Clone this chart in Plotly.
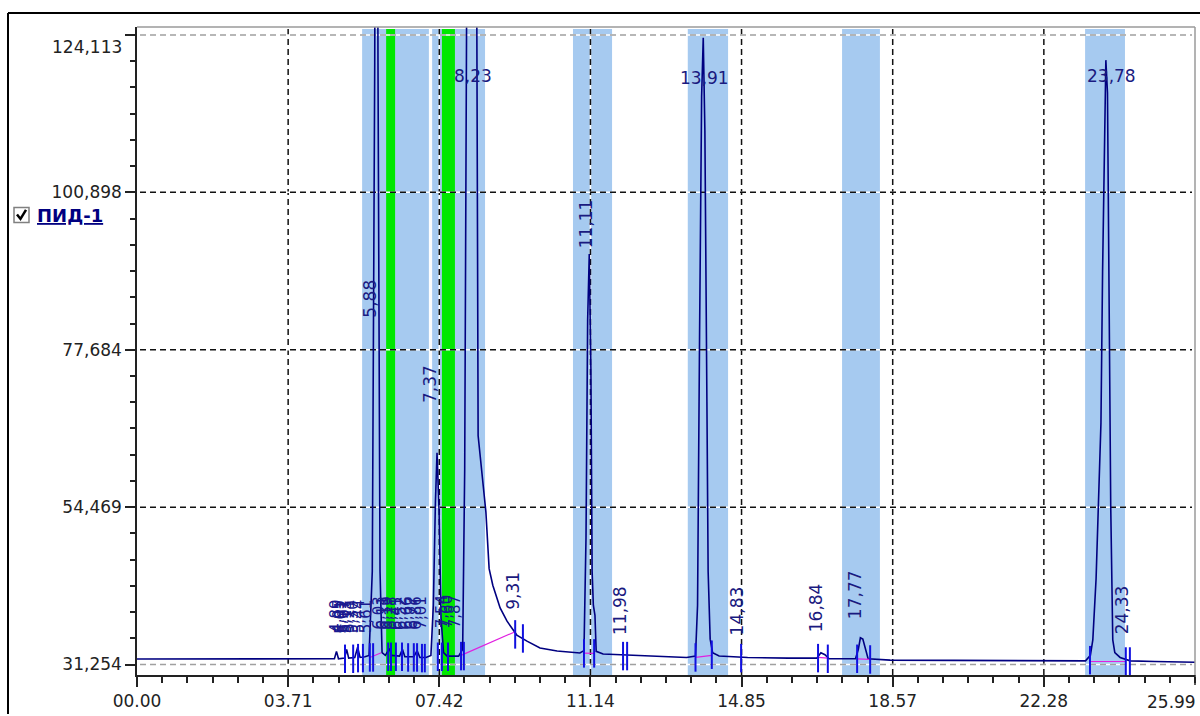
import plotly.graph_objects as go

# ---------------- data ----------------
signal_t = [0.00, 1.50, 3.00, 4.50, 4.85, 4.90, 4.95, 5.10, 5.15, 5.20, 5.35, 5.42, 5.48,
            5.60, 5.70, 5.78, 5.84, 5.88, 5.92, 5.97, 6.02, 6.10, 6.20, 6.26, 6.45, 6.52,
            6.58, 6.80, 6.88, 6.95, 7.10, 7.22, 7.28, 7.33, 7.37, 7.42, 7.47, 7.53, 7.62,
            7.90, 8.00, 8.05, 8.12, 8.23, 8.33, 8.38, 8.50, 8.57, 8.65, 8.74, 8.92, 9.09,
            9.33, 9.58, 9.90, 10.32, 10.88, 10.98, 11.03, 11.07, 11.11, 11.15, 11.18, 11.21,
            11.25, 11.28, 11.45, 12.00, 12.50, 13.00, 13.50, 13.72, 13.77, 13.82, 13.87,
            13.91, 13.95, 14.00, 14.03, 14.08, 14.14, 14.30, 15.00, 16.00, 16.70, 16.80,
            16.90, 17.00, 17.65, 17.72, 17.77, 17.83, 17.90, 17.96, 18.50, 20.00, 22.00,
            23.30, 23.42, 23.48, 23.56, 23.62, 23.68, 23.72, 23.77, 23.80, 23.84, 23.88,
            23.92, 23.97, 24.02, 24.15, 24.40, 25.00, 25.99]
signal_v = [32.06, 32.06, 32.06, 32.10, 32.10, 33.2, 32.1, 32.2, 33.5, 32.2, 32.3, 33.8, 32.3,
            32.4, 32.6, 45.0, 120.0, 220.0, 120.0, 45.0, 33.0, 32.6, 33.6, 32.6, 32.5, 33.5,
            32.4, 32.4, 33.3, 32.3, 32.3, 32.6, 40.0, 55.0, 62.5, 54.0, 38.0, 33.0, 32.5,
            32.5, 33.5, 60.0, 160.0, 220.0, 160.0, 65.0, 57.2, 53.8, 45.4, 42.95, 39.6, 37.65,
            35.6, 34.7, 33.7, 33.24, 32.95, 33.3, 50.0, 82.0, 91.8, 75.0, 45.0, 40.0,
            38.5, 33.2, 32.8, 32.65, 32.5, 32.4, 32.3, 32.5, 40.0, 80.0, 115.0,
            123.7, 110.0, 70.0, 45.0, 35.0, 33.0, 32.5, 32.3, 32.2, 32.2, 33.0,
            32.7, 32.1, 32.1, 33.5, 35.2, 35.0, 33.5, 32.1, 31.9, 31.85, 31.8,
            31.8, 32.6, 34.9, 43.9, 54.0, 66.9, 89.3, 113.0, 120.4, 115.6, 89.3,
            54.6, 34.9, 33.0, 32.3, 31.8, 31.7, 31.6]

# peak boundary markers (time, signal level)
marker_t = [5.11, 5.31, 5.43, 5.55, 5.72, 5.80, 6.17, 6.24, 6.36, 6.51, 6.66, 6.80, 6.88,
            7.00, 7.07, 7.39, 7.49, 7.64, 7.96, 8.03, 9.29, 9.48, 10.98, 11.23, 11.94,
            12.04, 13.72, 14.12, 14.84, 16.73, 16.97, 17.69, 18.01, 23.41, 24.29, 24.39]
marker_v = [32.2, 32.2, 32.3, 32.3, 32.4, 32.4, 32.5, 32.5, 32.5, 32.5, 32.4, 32.4, 32.4,
            32.3, 32.3, 32.5, 32.5, 32.5, 32.6, 32.6, 35.8, 35.2, 33.0, 33.0, 32.6,
            32.6, 32.4, 32.8, 32.3, 32.3, 32.2, 32.2, 32.1, 32.0, 31.8, 31.8]

# baseline segments (start t, start v, end t, end v)
base_t0 = [5.72, 7.96, 10.98, 13.72, 16.73, 17.69, 23.41]
base_v0 = [32.3, 32.6, 32.95, 32.3, 32.3, 32.1, 31.7]
base_t1 = [6.00, 9.29, 11.23, 14.12, 16.97, 18.01, 24.29]
base_v1 = [33.0, 36.1, 32.9, 32.6, 32.2, 32.0, 31.7]

# integration windows (blue) and excluded zones (green)
band_start = [5.53, 7.25, 10.71, 13.53, 17.32, 23.29]
band_end = [7.17, 8.55, 11.67, 14.52, 18.25, 24.27]
green_start = [6.12, 7.49]
green_end = [6.34, 7.81]

# peak labels
vlabel_text = ["5,88", "7,37", "9,31", "11,11", "11,98", "14,83", "16,84", "17,77", "24,33"]
vlabel_t = [5.72, 7.20, 9.25, 11.03, 11.86, 14.74, 16.68, 17.64, 24.20]
vlabel_v = [85.2, 72.65, 42.06, 96.2, 39.27, 39.1, 39.56, 41.5, 39.27]
hlabel_text = ["8,23", "13,91", "23,78"]
hlabel_t = [8.25, 13.95, 23.93]
hlabel_v = [118.1, 117.8, 118.1]
small_text = ["4,89", "4,95", "5,01", "5,07", "5,13", "5,21", "5,30", "5,44", "5,61",
              "6,03", "6,11", "6,19", "6,28", "6,41", "6,52", "6,66", "6,77", "6,86",
              "7,01", "7,54", "7,60", "7,87"]
small_t = [4.89, 4.95, 5.01, 5.07, 5.13, 5.21, 5.30, 5.44, 5.61,
           5.95, 6.05, 6.15, 6.25, 6.38, 6.50, 6.64, 6.76, 6.86,
           6.98, 7.50, 7.62, 7.82]
small_v = [38.3, 38.3, 38.3, 38.3, 38.3, 38.3, 38.3, 38.3, 38.3,
           38.8, 38.8, 38.8, 38.8, 38.8, 38.8, 38.8, 38.8, 38.8,
           38.8, 39.0, 39.0, 39.0]

x_ticks = [0.0, 3.713, 7.426, 11.139, 14.851, 18.564, 22.277, 25.99]
x_labels = ["00.00", "03.71", "07.42", "11.14", "14.85", "18.57", "22.28", "25.99"]
y_ticks = [31.254, 54.469, 77.684, 100.898, 124.113]
y_labels = ["31,254", "54,469", "77,684", "100,898", "124,113"]
channel_name = "ПИД-1"

# ---------------- layout helpers ----------------
L, R, T, B = 137, 1195, 27, 677
W, H = R - L, B - T


def PX(px):
    return (px - L) / W


def PY(py):
    return (B - py) / H


NAVY = "#000080"
FONT = "DejaVu Sans"
TXT = "#222222"

fig = go.Figure()

fig.add_trace(go.Scatter(x=signal_t, y=signal_v, mode="lines",
                         line=dict(color=NAVY, width=1.6), hoverinfo="skip"))

bx, by = [], []
for t0, v0, t1, v1 in zip(base_t0, base_v0, base_t1, base_v1):
    bx += [t0, t1, None]
    by += [v0, v1, None]
fig.add_trace(go.Scatter(x=bx, y=by, mode="lines",
                         line=dict(color="#E020E0", width=1.2), hoverinfo="skip"))

mx, my = [], []
for t, v in zip(marker_t, marker_v):
    mx += [t, t, None]
    my += [v - 2.2, v + 2.0, None]
fig.add_trace(go.Scatter(x=mx, y=my, mode="lines",
                         line=dict(color="#1010E0", width=2), hoverinfo="skip"))

shapes = []
top_band = PY(29)
for a, b in zip(band_start, band_end):
    shapes.append(dict(type="rect", xref="x", yref="paper", x0=a, x1=b, y0=0, y1=top_band,
                       fillcolor="#A6CAF0", line=dict(width=0), layer="below"))
for a, b in zip(green_start, green_end):
    shapes.append(dict(type="rect", xref="x", yref="paper", x0=a, x1=b, y0=0, y1=top_band,
                       fillcolor="#00E800", line=dict(width=0), layer="below"))

# grid lines: white underlay + dashed line
for tv in x_ticks[1:-1]:
    shapes.append(dict(type="line", xref="x", yref="paper", x0=tv, x1=tv, y0=0, y1=1,
                       line=dict(color="white", width=1.5), layer="below"))
    shapes.append(dict(type="line", xref="x", yref="paper", x0=tv, x1=tv, y0=0, y1=1,
                       line=dict(color="#111111", width=1.5, dash="6px,4px"), layer="below"))
for i, yv in enumerate(y_ticks):
    col = "#A0A0A0" if i in (0, len(y_ticks) - 1) else "#111111"
    shapes.append(dict(type="line", xref="paper", yref="y", x0=PX(140), x1=PX(1192), y0=yv, y1=yv,
                       line=dict(color="white", width=1.5), layer="below"))
    shapes.append(dict(type="line", xref="paper", yref="y", x0=PX(140), x1=PX(1192), y0=yv, y1=yv,
                       line=dict(color=col, width=1.5, dash="6px,4px"), layer="below"))

# plot frame (top / right) in gray
shapes.append(dict(type="line", xref="paper", yref="paper", x0=0, x1=1, y0=1, y1=1,
                   line=dict(color="#9A9A9A", width=1.5)))
shapes.append(dict(type="line", xref="paper", yref="paper", x0=1, x1=1, y0=0, y1=1,
                   line=dict(color="#9A9A9A", width=1.5)))
# last major x tick (at the range edge)
shapes.append(dict(type="line", xref="paper", yref="paper", x0=1, x1=1, y0=0, y1=PY(687),
                   line=dict(color=TXT, width=1.5)))
# outer panel frame
shapes.append(dict(type="line", xref="paper", yref="paper", x0=PX(8), x1=PX(1200), y0=PY(13), y1=PY(13),
                   line=dict(color="black", width=2)))
shapes.append(dict(type="line", xref="paper", yref="paper", x0=PX(8), x1=PX(8), y0=PY(13), y1=PY(716),
                   line=dict(color="black", width=2)))
# checkbox
shapes.append(dict(type="rect", xref="paper", yref="paper", x0=PX(14), x1=PX(29), y0=PY(223), y1=PY(208),
                   fillcolor="white", line=dict(color="#808080", width=1.5)))
shapes.append(dict(type="path", xref="paper", yref="paper",
                   path=f"M {PX(17)},{PY(215)} L {PX(20.5)},{PY(219.5)} L {PX(26)},{PY(210.5)}",
                   line=dict(color="black", width=2.5)))

annotations = []
for txt, t, v in zip(small_text, small_t, small_v):
    annotations.append(dict(x=t, y=v, xref="x", yref="y", text=txt, showarrow=False, textangle=-90,
                            xanchor="center", yanchor="middle",
                            font=dict(family=FONT, size=15, color="#1a1a90")))
for txt, t, v in zip(vlabel_text, vlabel_t, vlabel_v):
    annotations.append(dict(x=t, y=v, xref="x", yref="y", text=txt, showarrow=False, textangle=-90,
                            xanchor="center", yanchor="middle",
                            font=dict(family=FONT, size=17, color="#1a1a80")))
for txt, t, v in zip(hlabel_text, hlabel_t, hlabel_v):
    annotations.append(dict(x=t, y=v, xref="x", yref="y", text=txt, showarrow=False,
                            xanchor="center", yanchor="middle",
                            font=dict(family=FONT, size=17, color="#1a1a80")))
annotations.append(dict(x=PX(35), y=PY(216), xref="paper", yref="paper", xanchor="left", yanchor="middle",
                        text=f"<b><u>{channel_name}</u></b>", showarrow=False,
                        font=dict(family=FONT, size=18, color=NAVY)))
annotations.append(dict(x=PX(124), y=y_ticks[-1], xref="paper", yref="y", xanchor="right", yanchor="middle",
                        yshift=-12, text=y_labels[-1], showarrow=False,
                        font=dict(family=FONT, size=17, color=TXT)))
annotations.append(dict(x=PX(1198), y=PY(704), xref="paper", yref="paper", xanchor="right", yanchor="middle",
                        text=x_labels[-1], showarrow=False,
                        font=dict(family=FONT, size=17, color=TXT)))

fig.update_layout(
    width=1200, height=716,
    margin=dict(l=L, r=1200 - R, t=T, b=716 - B, pad=0),
    paper_bgcolor="white", plot_bgcolor="white",
    showlegend=False,
    shapes=shapes, annotations=annotations,
    xaxis=dict(range=[0, 25.99], showgrid=False, zeroline=False,
               showline=True, linecolor=TXT, linewidth=1.5,
               ticks="outside", ticklen=10, tickwidth=1.5, tickcolor=TXT,
               tickmode="array", tickvals=x_ticks[:-1], ticktext=x_labels[:-1],
               tickfont=dict(family=FONT, size=17, color=TXT),
               minor=dict(ticks="outside", ticklen=6, tickwidth=1.5, tickcolor=TXT,
                          tickmode="linear", tick0=0, dtick=25.99 / 42, showgrid=False)),
    yaxis=dict(range=[29.71, 125.29], showgrid=False, zeroline=False,
               showline=True, linecolor=TXT, linewidth=1.5,
               ticks="outside", ticklen=10, tickwidth=1.5, tickcolor=TXT,
               tickmode="array", tickvals=y_ticks, ticktext=y_labels[:-1] + [""],
               tickfont=dict(family=FONT, size=17, color=TXT),
               minor=dict(ticks="outside", ticklen=5, tickwidth=1.5, tickcolor=TXT,
                          tickmode="linear", tick0=31.254, dtick=23.2148 / 6, showgrid=False)),
)

fig.write_html("out.html")
